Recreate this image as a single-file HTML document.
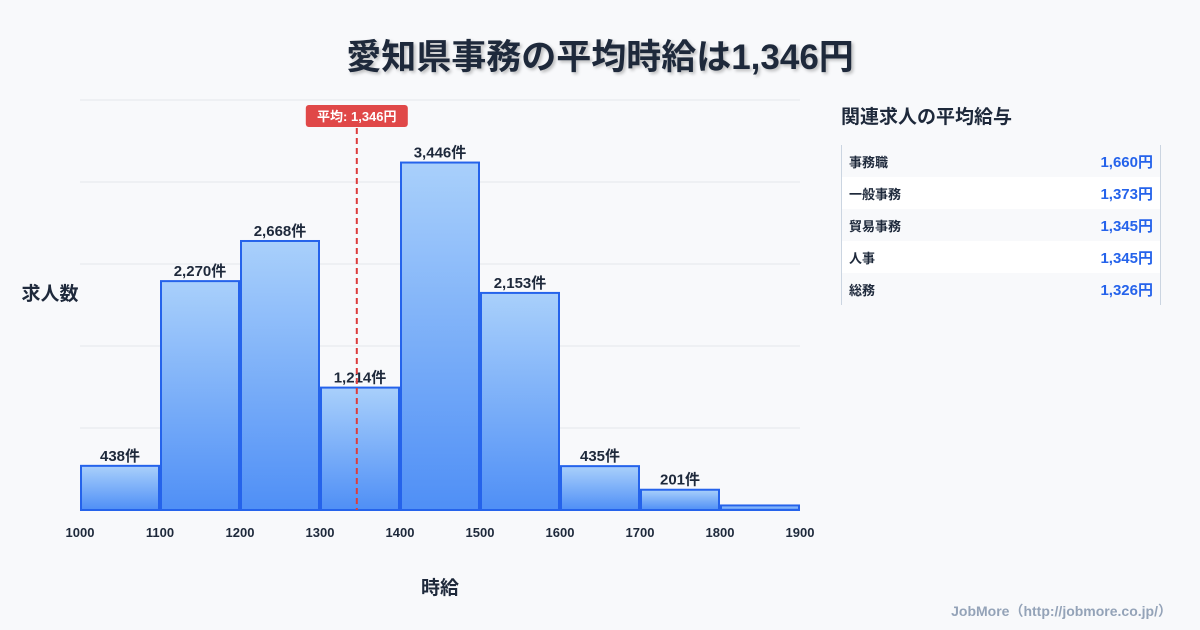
<!DOCTYPE html>
<html><head><meta charset="utf-8"><style>
body{margin:0;width:1200px;height:630px;background:#f8f9fb;font-family:"Liberation Sans","Noto Sans CJK JP",sans-serif;overflow:hidden;position:relative}
.t{position:absolute;left:0;width:1200px;text-align:center;top:29px;font-size:35px;font-weight:bold;color:#1e293b;text-shadow:2px 2px 3px rgba(0,0,0,0.25)}
.side{position:absolute;left:841px;top:102px;font-size:19px;font-weight:bold;color:#1e293b}
table{position:absolute;left:841px;top:145px;width:320px;border-collapse:collapse;border-left:1px solid #cbd5e1;border-right:1px solid #cbd5e1}
td{height:32px;padding:0 7px;font-size:13px;font-weight:bold;color:#1e293b}
td.v{text-align:right;color:#2563eb;font-size:15px}
tr:nth-child(even){background:#fff}
.foot{position:absolute;right:28px;top:601px;font-size:14px;color:#94a3b8;font-weight:bold}
</style></head><body>
<div class="t">愛知県事務の平均時給は1,346円</div>
<svg id="c" width="1200" height="630" style="position:absolute;left:0;top:0">
<defs><linearGradient id="g" x1="0" y1="0" x2="0" y2="1"><stop offset="0" stop-color="#a9d0fb"/><stop offset="1" stop-color="#4f8ff6"/></linearGradient></defs>
</svg>
<div class="side">関連求人の平均給与</div>
<table>
<tr><td>事務職</td><td class="v">1,660円</td></tr>
<tr><td>一般事務</td><td class="v">1,373円</td></tr>
<tr><td>貿易事務</td><td class="v">1,345円</td></tr>
<tr><td>人事</td><td class="v">1,345円</td></tr>
<tr><td>総務</td><td class="v">1,326円</td></tr>
</table>
<div class="foot">JobMore（http://jobmore.co.jp/）</div>
<script>
const binStarts=[1000,1100,1200,1300,1400,1500,1600,1700,1800];
const counts=[438,2270,2668,1214,3446,2153,435,201,45];
const labels=["438件","2,270件","2,668件","1,214件","3,446件","2,153件","435件","201件",""];
const xTicks=[1000,1100,1200,1300,1400,1500,1600,1700,1800,1900];
const meanWage=1346;
const meanLabel="平均: 1,346円";
const svg=document.getElementById('c');
const NS='http://www.w3.org/2000/svg';
const x0=80,x1=800,yb=510,yt=100;
const xmin=1000,xmax=1900;
const ymax=Math.max(...counts)*1.18;
const X=v=>x0+(v-xmin)/(xmax-xmin)*(x1-x0);
const Y=v=>yb-v/ymax*(yb-yt);
function el(t,a){const e=document.createElementNS(NS,t);for(const k in a)e.setAttribute(k,a[k]);svg.appendChild(e);return e;}
for(let i=0;i<=5;i++){const y=yb-i*(yb-yt)/5;
const l=el('line',{x1:x0,x2:x1,y1:y,y2:y,stroke:'#e5e7eb','stroke-width':1});

}
binStarts.forEach((b,i)=>{
const xa=X(b)+1,xb=X(b+100)-1,y=Y(counts[i]);
const r=el('rect',{x:xa,y:y,width:xb-xa,height:yb-y,fill:'url(#g)',stroke:'#2563eb','stroke-width':2});


if(labels[i]){const t=el('text',{x:(xa+xb)/2,y:y-5,'text-anchor':'middle','font-size':15,'font-weight':'bold',fill:'#1e293b'});t.textContent=labels[i];

}
});
xTicks.forEach(v=>{
const t=el('text',{x:X(v),y:537,'text-anchor':'middle','font-size':13,'font-weight':'bold',fill:'#1e293b'});t.textContent=v;

});
const mx=X(meanWage);
const ml=el('line',{x1:mx,x2:mx,y1:128,y2:yb,stroke:'#dc3c3c','stroke-width':2,'stroke-dasharray':'6,4'});


const mb=el('rect',{x:mx-51,y:105,width:102,height:22,rx:3,fill:'#e04848'});


const mt=el('text',{x:mx,y:121,'text-anchor':'middle','font-size':13,'font-weight':'bold',fill:'#fff'});mt.textContent=meanLabel;


const ya=el('text',{x:50,y:300,'text-anchor':'middle','font-size':19,'font-weight':'bold',fill:'#1e293b'});ya.textContent='求人数';


const xa=el('text',{x:440,y:594,'text-anchor':'middle','font-size':19,'font-weight':'bold',fill:'#1e293b'});xa.textContent='時給';


</script>
</body></html>
